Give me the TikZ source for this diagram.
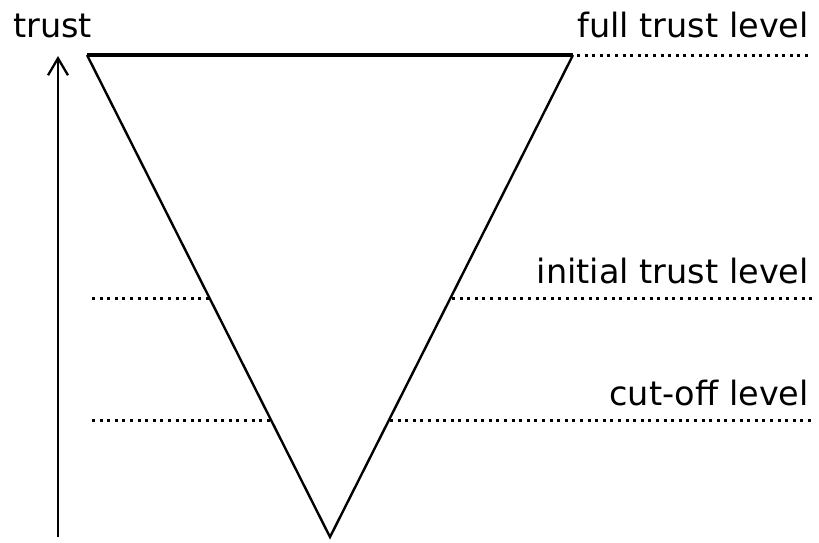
\documentclass[tikz,border=0pt]{standalone}
\usepackage{fontspec}
\setmainfont{DejaVu Sans}
\usetikzlibrary{arrows.meta}
\begin{document}
\begin{tikzpicture}[x=1pt,y=-1pt,
  lbl/.style={font=\fontsize{33.5}{38}\selectfont, inner sep=0pt, anchor=base east},
  dotline/.style={line width=3pt, dash pattern=on 3pt off 4.6pt},
  tri/.style={line width=2.4pt, line join=miter},
  axis/.style={line width=2.6pt, -{Straight Barb[length=17pt,width=20pt,line width=2.3pt]}}]
\useasboundingbox (0,0) rectangle (819,542);
% triangle corners
\coordinate (tl) at (87,55);
\coordinate (tr) at (573,55);
\coordinate (bt) at (330,537);
\draw[tri] (tl) -- (bt) -- (tr);
\draw[line width=3.5pt] (tl) -- (tr);
% axis
\coordinate (a0) at (58,537);
\coordinate (a1) at (58,56);
\draw[axis] (a0) -- (a1);
% level lines
\coordinate (fe) at (812,55);
\draw[dotline] ([xshift=4pt]tr) -- (fe);
\coordinate (is) at (92,298);
\coordinate (il) at (209,298);
\coordinate (ir) at (452,298);
\coordinate (ie) at (812,298);
\draw[dotline] (is) -- (il);
\draw[dotline] (ir) -- (ie);
\coordinate (cs) at (92,420);
\coordinate (cl) at (271,420);
\coordinate (cr) at (390,420);
\coordinate (ce) at (812,420);
\draw[dotline] (cs) -- (cl);
\draw[dotline] (cr) -- (ce);
% labels
\node[lbl, anchor=base west] (tlab) at (13,37) {trust};
\node[lbl] (flab) at (809,37) {full trust level};
\node[lbl] (ilab) at (809,283) {initial trust level};
\node[lbl] (clab) at (809,405) {cut-off level};
\end{tikzpicture}
\end{document}
